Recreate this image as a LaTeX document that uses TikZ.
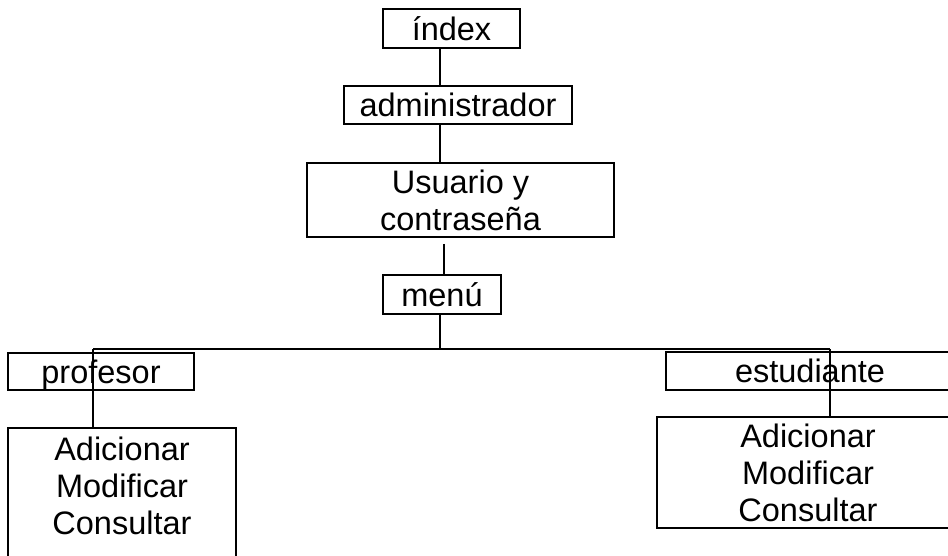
\documentclass[tikz,border=0pt]{standalone}
\usepackage{fontspec}
\setmainfont{Liberation Sans}
\newcommand{\boxfont}{\fontsize{32.5}{37}\selectfont}
\begin{document}
\begin{tikzpicture}[x=1pt,y=-1pt,
  box/.style={draw, line width=1.8pt, inner sep=0pt, font=\boxfont, align=center},
  txt/.style={inner sep=0pt, font=\boxfont, align=center},
  link/.style={line width=1.8pt}]
\clip (0,0) rectangle (948,556);
\fill[white] (0,0) rectangle (948,556);
% top chain
\node[box, minimum width=137, minimum height=39] (index) at (451.5,28.5) {índex};
\node[box, minimum width=228, minimum height=38] (admin) at (458,105) {administrador};
\node[box, minimum width=307, minimum height=74] (user) at (460.5,200) {Usuario y\\contraseña};
\node[box, minimum width=118, minimum height=39] (menu) at (442,294.5) {menú};
% second level
\node[box, minimum width=186, minimum height=37, text depth=0pt] (prof) at (101,371.5) {profesor};
\node[box, minimum width=288, minimum height=38] (est) at (810,371) {estudiante};
% action boxes
\node[box, minimum width=228, minimum height=192] (profbox) at (122,524) {};
\node[txt] (proftext) at (122,486) {Adicionar\\Modificar\\Consultar};
\node[box, minimum width=302, minimum height=111] (estbox) at (808,472.5) {Adicionar\\Modificar\\Consultar};
% junction coordinates
\coordinate (jl) at (93,349);
\coordinate (jr) at (830,349);
% connectors
\draw[link] ([xshift=-11.5]index.south) -- ([xshift=-11.5]index.south |- admin.north);
\draw[link] ([xshift=-18]admin.south) -- ([xshift=-18]admin.south |- user.north);
\draw[link, shorten <=6pt] ([xshift=2]menu.north |- user.south) -- ([xshift=2]menu.north);
\draw[link] ([xshift=-2]menu.south) -- ([xshift=-2]menu.south |- jl);
\draw[link] (jl) -- (jr);
\draw[link] (jl) -- (jl |- profbox.north);
\draw[link] (jr) -- (jr |- estbox.north);
\end{tikzpicture}
\end{document}
